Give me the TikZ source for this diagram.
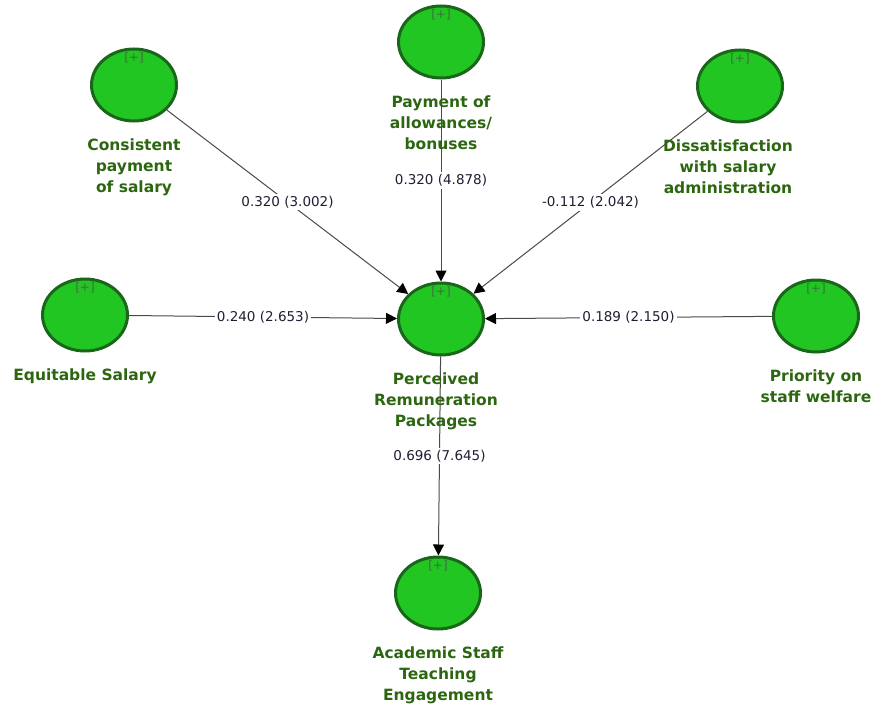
\documentclass[tikz,border=0pt]{standalone}
\usepackage{fontspec}
\setsansfont{DejaVu Sans}
\usetikzlibrary{arrows.meta, positioning, shapes.geometric, backgrounds}
\definecolor{LvFill}{HTML}{22C622}
\definecolor{LvRim}{HTML}{1A661A}
\definecolor{LvInk}{HTML}{2D6610}
\definecolor{PathInk}{HTML}{4A4A4A}
\definecolor{CoefInk}{HTML}{1F1F33}
\definecolor{PlusInk}{HTML}{3F6F3F}

\begin{document}
\begin{tikzpicture}[
    x=1pt, y=-1pt,
    font=\sffamily,
    latent/.style={
      ellipse,
      draw=LvRim,
      line width=3pt,
      fill=LvFill,
      inner sep=0pt,
      minimum width=85pt,
      minimum height=72pt,
      label={[plus]north:{[+]}},
    },
    plus/.style={
      anchor=north,
      inner sep=0pt,
      yshift=-5pt,
      text=PlusInk,
      font=\sffamily\fontsize{12}{12}\selectfont,
    },
    caption/.style={
      align=center,
      inner sep=0pt,
      text=LvInk,
      font=\sffamily\bfseries\fontsize{15.5}{21}\selectfont,
    },
    path/.style={
      draw=PathInk,
      line width=1pt,
      -{Triangle[length=11pt,width=11pt,color=black]},
    },
    coef/.style={
      fill=white,
      inner sep=2pt,
      text=CoefInk,
      font=\sffamily\fontsize{13.5}{13.5}\selectfont,
    },
  ]
    \useasboundingbox (0,0) rectangle (873,704);

    % ---- latent variables ----
    \node[latent] (cons) at (134,85) {};
    \node[latent] (pay)  at (441,42) {};
    \node[latent] (dis)  at (740,86) {};
    \node[latent] (equi) at (85,315) {};
    \node[latent] (perc) at (441,319) {};
    \node[latent] (prio) at (816,316) {};
    \node[latent] (acad) at (438,593) {};

    % ---- captions ----
    \node[caption, below=16pt of cons] (cons-t) {Consistent\\payment\\of salary};
    \node[caption, below=16pt of pay] (pay-t) {Payment of\\allowances/\\bonuses};
    \node[caption, below=16pt of dis, xshift=-12pt] (dis-t)
      {Dissatisfaction\\with salary\\administration};
    \node[caption, below=16pt of equi] (equi-t) {Equitable Salary};
    \node[caption, below=16pt of perc, xshift=-5pt] (perc-t)
      {Perceived\\Remuneration\\Packages};
    \node[caption, below=16pt of prio] (prio-t) {Priority on\\staff welfare};
    \node[caption, below=16pt of acad] (acad-t)
      {Academic Staff\\Teaching\\Engagement};

    % ---- paths ----
    \begin{scope}[on background layer]
      \foreach \src/\val in {cons/{0.320 (3.002)}, pay/{0.320 (4.878)},
          dis/{-0.112 (2.042)}, equi/{0.240 (2.653)}, prio/{0.189 (2.150)}} {
        \draw[path] (\src) -- node[coef] {\val} (perc);
      }
      \draw[path] (perc) -- node[coef] {0.696 (7.645)} (acad);
    \end{scope}
  \end{tikzpicture}
\end{document}
